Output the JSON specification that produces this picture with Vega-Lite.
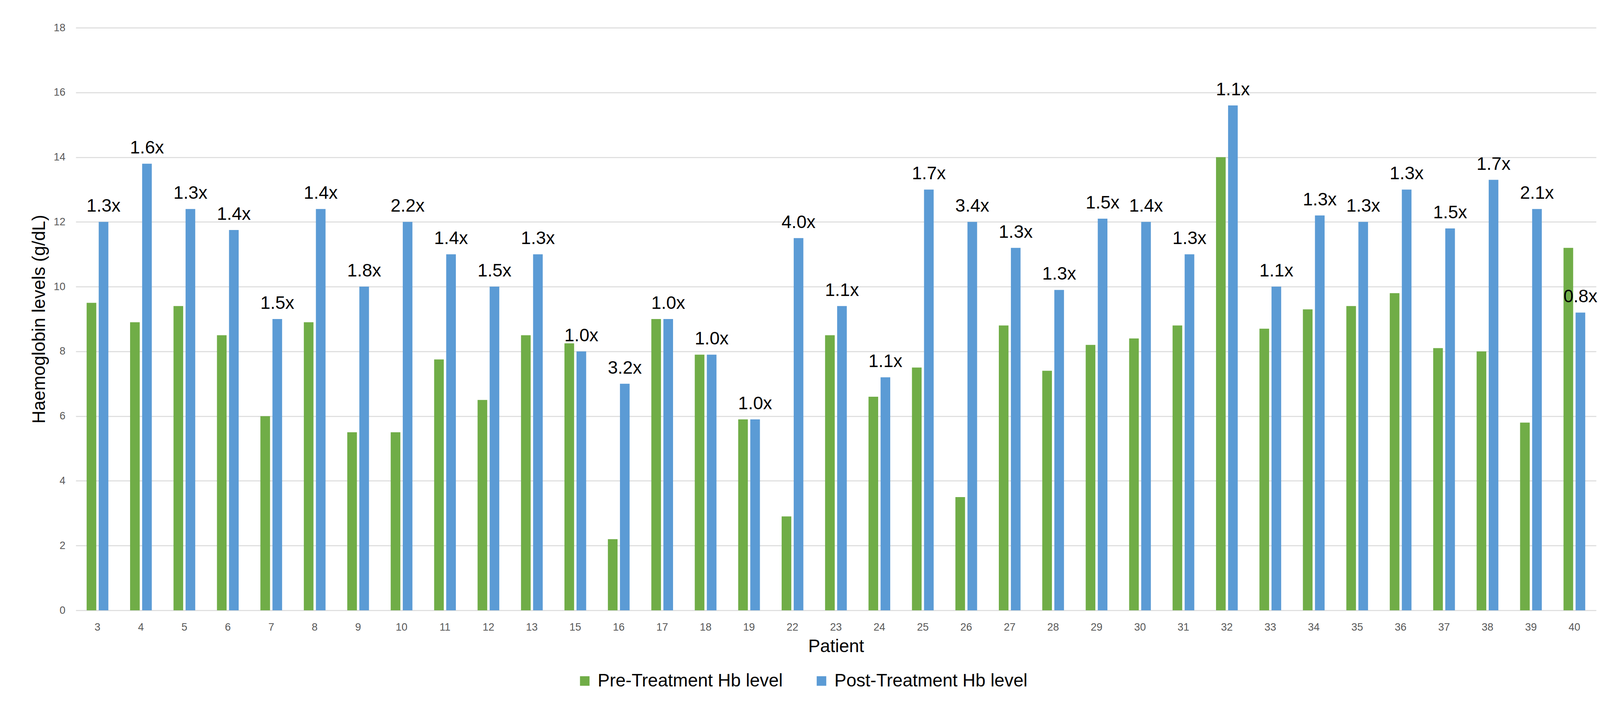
{
  "$schema": "https://vega.github.io/schema/vega-lite/v6.json",
  "width": 3892,
  "height": 1492,
  "autosize": {"type": "none"},
  "padding": {"left": 194, "top": 71, "right": 61, "bottom": 286},
  "background": "white",
  "data": {
    "values": [
      {"patient": 3, "phase": "Pre-Treatment Hb level", "hb": 9.5},
      {"patient": 3, "phase": "Post-Treatment Hb level", "hb": 12.0, "fold": "1.3x"},
      {"patient": 4, "phase": "Pre-Treatment Hb level", "hb": 8.9},
      {"patient": 4, "phase": "Post-Treatment Hb level", "hb": 13.8, "fold": "1.6x"},
      {"patient": 5, "phase": "Pre-Treatment Hb level", "hb": 9.4},
      {"patient": 5, "phase": "Post-Treatment Hb level", "hb": 12.4, "fold": "1.3x"},
      {"patient": 6, "phase": "Pre-Treatment Hb level", "hb": 8.5},
      {"patient": 6, "phase": "Post-Treatment Hb level", "hb": 11.75, "fold": "1.4x"},
      {"patient": 7, "phase": "Pre-Treatment Hb level", "hb": 6.0},
      {"patient": 7, "phase": "Post-Treatment Hb level", "hb": 9.0, "fold": "1.5x"},
      {"patient": 8, "phase": "Pre-Treatment Hb level", "hb": 8.9},
      {"patient": 8, "phase": "Post-Treatment Hb level", "hb": 12.4, "fold": "1.4x"},
      {"patient": 9, "phase": "Pre-Treatment Hb level", "hb": 5.5},
      {"patient": 9, "phase": "Post-Treatment Hb level", "hb": 10.0, "fold": "1.8x"},
      {"patient": 10, "phase": "Pre-Treatment Hb level", "hb": 5.5},
      {"patient": 10, "phase": "Post-Treatment Hb level", "hb": 12.0, "fold": "2.2x"},
      {"patient": 11, "phase": "Pre-Treatment Hb level", "hb": 7.75},
      {"patient": 11, "phase": "Post-Treatment Hb level", "hb": 11.0, "fold": "1.4x"},
      {"patient": 12, "phase": "Pre-Treatment Hb level", "hb": 6.5},
      {"patient": 12, "phase": "Post-Treatment Hb level", "hb": 10.0, "fold": "1.5x"},
      {"patient": 13, "phase": "Pre-Treatment Hb level", "hb": 8.5},
      {"patient": 13, "phase": "Post-Treatment Hb level", "hb": 11.0, "fold": "1.3x"},
      {"patient": 15, "phase": "Pre-Treatment Hb level", "hb": 8.25},
      {"patient": 15, "phase": "Post-Treatment Hb level", "hb": 8.0, "fold": "1.0x"},
      {"patient": 16, "phase": "Pre-Treatment Hb level", "hb": 2.2},
      {"patient": 16, "phase": "Post-Treatment Hb level", "hb": 7.0, "fold": "3.2x"},
      {"patient": 17, "phase": "Pre-Treatment Hb level", "hb": 9.0},
      {"patient": 17, "phase": "Post-Treatment Hb level", "hb": 9.0, "fold": "1.0x"},
      {"patient": 18, "phase": "Pre-Treatment Hb level", "hb": 7.9},
      {"patient": 18, "phase": "Post-Treatment Hb level", "hb": 7.9, "fold": "1.0x"},
      {"patient": 19, "phase": "Pre-Treatment Hb level", "hb": 5.9},
      {"patient": 19, "phase": "Post-Treatment Hb level", "hb": 5.9, "fold": "1.0x"},
      {"patient": 22, "phase": "Pre-Treatment Hb level", "hb": 2.9},
      {"patient": 22, "phase": "Post-Treatment Hb level", "hb": 11.5, "fold": "4.0x"},
      {"patient": 23, "phase": "Pre-Treatment Hb level", "hb": 8.5},
      {"patient": 23, "phase": "Post-Treatment Hb level", "hb": 9.4, "fold": "1.1x"},
      {"patient": 24, "phase": "Pre-Treatment Hb level", "hb": 6.6},
      {"patient": 24, "phase": "Post-Treatment Hb level", "hb": 7.2, "fold": "1.1x"},
      {"patient": 25, "phase": "Pre-Treatment Hb level", "hb": 7.5},
      {"patient": 25, "phase": "Post-Treatment Hb level", "hb": 13.0, "fold": "1.7x"},
      {"patient": 26, "phase": "Pre-Treatment Hb level", "hb": 3.5},
      {"patient": 26, "phase": "Post-Treatment Hb level", "hb": 12.0, "fold": "3.4x"},
      {"patient": 27, "phase": "Pre-Treatment Hb level", "hb": 8.8},
      {"patient": 27, "phase": "Post-Treatment Hb level", "hb": 11.2, "fold": "1.3x"},
      {"patient": 28, "phase": "Pre-Treatment Hb level", "hb": 7.4},
      {"patient": 28, "phase": "Post-Treatment Hb level", "hb": 9.9, "fold": "1.3x"},
      {"patient": 29, "phase": "Pre-Treatment Hb level", "hb": 8.2},
      {"patient": 29, "phase": "Post-Treatment Hb level", "hb": 12.1, "fold": "1.5x"},
      {"patient": 30, "phase": "Pre-Treatment Hb level", "hb": 8.4},
      {"patient": 30, "phase": "Post-Treatment Hb level", "hb": 12.0, "fold": "1.4x"},
      {"patient": 31, "phase": "Pre-Treatment Hb level", "hb": 8.8},
      {"patient": 31, "phase": "Post-Treatment Hb level", "hb": 11.0, "fold": "1.3x"},
      {"patient": 32, "phase": "Pre-Treatment Hb level", "hb": 14.0},
      {"patient": 32, "phase": "Post-Treatment Hb level", "hb": 15.6, "fold": "1.1x"},
      {"patient": 33, "phase": "Pre-Treatment Hb level", "hb": 8.7},
      {"patient": 33, "phase": "Post-Treatment Hb level", "hb": 10.0, "fold": "1.1x"},
      {"patient": 34, "phase": "Pre-Treatment Hb level", "hb": 9.3},
      {"patient": 34, "phase": "Post-Treatment Hb level", "hb": 12.2, "fold": "1.3x"},
      {"patient": 35, "phase": "Pre-Treatment Hb level", "hb": 9.4},
      {"patient": 35, "phase": "Post-Treatment Hb level", "hb": 12.0, "fold": "1.3x"},
      {"patient": 36, "phase": "Pre-Treatment Hb level", "hb": 9.8},
      {"patient": 36, "phase": "Post-Treatment Hb level", "hb": 13.0, "fold": "1.3x"},
      {"patient": 37, "phase": "Pre-Treatment Hb level", "hb": 8.1},
      {"patient": 37, "phase": "Post-Treatment Hb level", "hb": 11.8, "fold": "1.5x"},
      {"patient": 38, "phase": "Pre-Treatment Hb level", "hb": 8.0},
      {"patient": 38, "phase": "Post-Treatment Hb level", "hb": 13.3, "fold": "1.7x"},
      {"patient": 39, "phase": "Pre-Treatment Hb level", "hb": 5.8},
      {"patient": 39, "phase": "Post-Treatment Hb level", "hb": 12.4, "fold": "2.1x"},
      {"patient": 40, "phase": "Pre-Treatment Hb level", "hb": 11.2},
      {"patient": 40, "phase": "Post-Treatment Hb level", "hb": 9.2, "fold": "0.8x"}
    ]
  },
  "encoding": {
    "x": {
      "field": "patient",
      "type": "ordinal",
      "scale": {"paddingInner": 0.5, "paddingOuter": 0.25},
      "axis": {
        "title": "Patient",
        "labelAngle": 0,
        "labelFontSize": 27,
        "labelColor": "#595959",
        "labelPadding": 30,
        "titleFontSize": 46,
        "titleFontWeight": "normal",
        "titleColor": "#000000",
        "titlePadding": 14,
        "ticks": false,
        "domain": false
      }
    },
    "xOffset": {
      "field": "phase",
      "type": "nominal",
      "scale": {
        "domain": ["Pre-Treatment Hb level", "Post-Treatment Hb level"],
        "paddingInner": 0.2,
        "paddingOuter": 0
      }
    },
    "y": {
      "field": "hb",
      "type": "quantitative",
      "scale": {"domain": [0, 18], "nice": false},
      "axis": {
        "title": "Haemoglobin levels (g/dL)",
        "values": [0, 2, 4, 6, 8, 10, 12, 14, 16, 18],
        "labelFontSize": 27,
        "labelColor": "#595959",
        "labelPadding": 27,
        "titleFontSize": 46,
        "titleFontWeight": "normal",
        "titleColor": "#000000",
        "titlePadding": 12,
        "ticks": false,
        "domain": false,
        "grid": true,
        "gridColor": "#e0e0e0",
        "gridWidth": 3
      }
    }
  },
  "layer": [
    {
      "mark": {"type": "bar"},
      "encoding": {
        "color": {
          "field": "phase",
          "type": "nominal",
          "scale": {
            "domain": ["Pre-Treatment Hb level", "Post-Treatment Hb level"],
            "range": ["#70AD47", "#5B9BD5"]
          },
          "legend": {
            "title": null,
            "orient": "none",
            "direction": "horizontal",
            "legendX": 1280,
            "legendY": 1650,
            "symbolType": "square",
            "symbolSize": 600,
            "symbolStrokeWidth": 0,
            "labelFontSize": 46,
            "labelColor": "#000000",
            "labelOffset": 10,
            "labelLimit": 0,
            "columnPadding": 76
          }
        }
      }
    },
    {
      "transform": [{"filter": "datum.fold"}],
      "mark": {
        "type": "text",
        "fontSize": 46,
        "color": "#000000",
        "baseline": "alphabetic",
        "align": "center",
        "dy": -26
      },
      "encoding": {
        "text": {"field": "fold", "type": "nominal"}
      }
    }
  ],
  "config": {
    "font": "Liberation Sans",
    "view": {"stroke": null}
  }
}
